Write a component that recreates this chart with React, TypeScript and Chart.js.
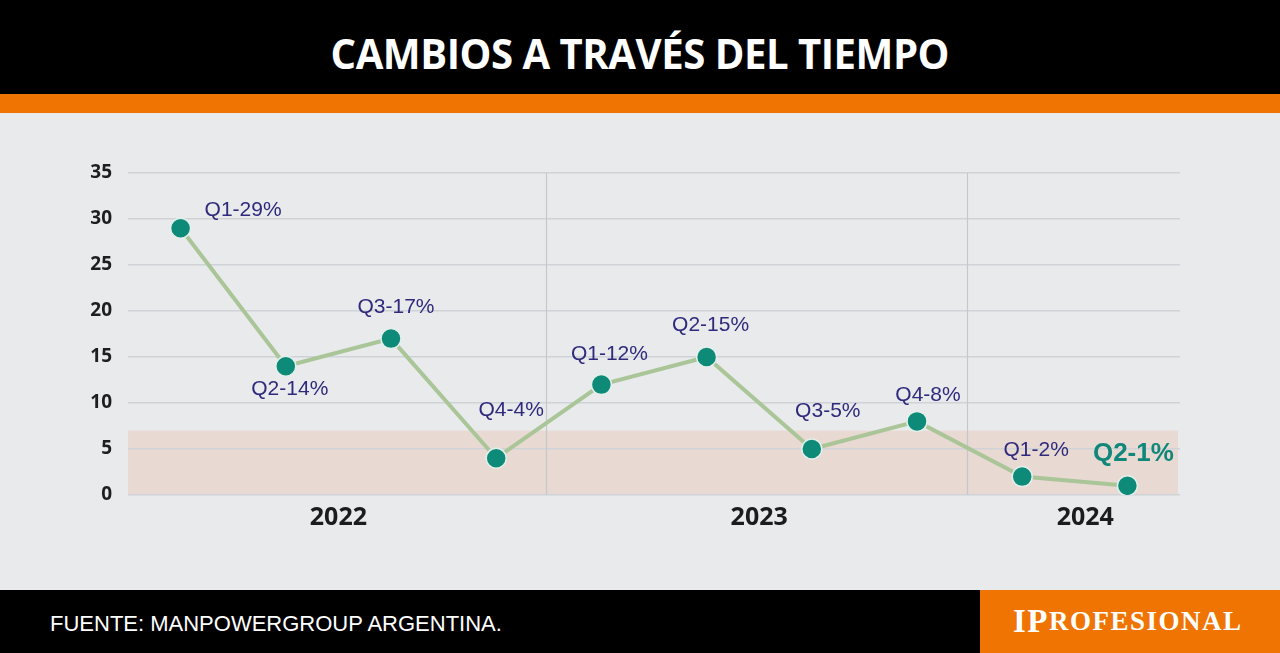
import React, { useEffect, useRef } from "react";
import { Chart, registerables } from "chart.js";

Chart.register(...registerables);

// ---- data ----
const categories = ["Q1", "Q2", "Q3", "Q4", "Q1", "Q2", "Q3", "Q4", "Q1", "Q2"];
const values = [29, 14, 17, 4, 12, 15, 5, 8, 2, 1];
const pointLabels = ["Q1-29%", "Q2-14%", "Q3-17%", "Q4-4%", "Q1-12%", "Q2-15%", "Q3-5%", "Q4-8%", "Q1-2%", "Q2-1%"];
const yearLabels = ["2022", "2023", "2024"];
const yearCenters = [1.5, 5.5, 8.6]; // category-index positions of year labels
const yearDividers = [3.5, 7.5]; // category-index positions of year separators
const yTickMax = 35;
const yTickStep = 5;
const bandTop = 7; // shaded zone 0..7

// ---- label placement (style) ----
const labelOffsets: [number, number, CanvasTextAlign][] = [
  [24, -18, "left"],
  [4, 23, "center"],
  [5, -31, "center"],
  [15, -48, "center"],
  [8, -30, "center"],
  [4, -32, "center"],
  [16, -38, "center"],
  [11, -26, "center"],
  [14, -26, "center"],
  [6, -32, "center"],
];

const overlayPlugin = {
  id: "overlay",
  beforeDraw(chart: any) {
    const { ctx, chartArea, scales } = chart;
    const y = scales.y;
    ctx.save();
    ctx.fillStyle = "#e8d9d2";
    const top = y.getPixelForValue(bandTop);
    const bot = y.getPixelForValue(0);
    ctx.fillRect(chartArea.left, top, chartArea.right - chartArea.left - 2, bot - top);
    ctx.restore();
  },
  beforeDatasetsDraw(chart: any) {
    const { ctx, scales } = chart;
    const x = scales.x;
    const y = scales.y;
    ctx.save();
    ctx.strokeStyle = "#c4c8cc";
    ctx.lineWidth = 1.2;
    yearDividers.forEach((d) => {
      const px = Math.round(x.getPixelForValue(d)) - 2.5;
      ctx.beginPath();
      ctx.moveTo(px, y.getPixelForValue(yTickMax));
      ctx.lineTo(px, y.getPixelForValue(0));
      ctx.stroke();
    });
    ctx.restore();
  },
  afterDatasetsDraw(chart: any) {
    const { ctx, scales, chartArea } = chart;
    const meta = chart.getDatasetMeta(0);
    ctx.save();
    ctx.textBaseline = "middle";
    meta.data.forEach((pt: any, i: number) => {
      const last = i === values.length - 1;
      const [dx, dy, align] = labelOffsets[i];
      ctx.textAlign = align;
      ctx.fillStyle = last ? "#11877a" : "#2f2a7c";
      ctx.font = last ? "bold 26px 'Liberation Sans', Arial, sans-serif" : "21px 'Liberation Sans', Arial, sans-serif";
      ctx.fillText(pointLabels[i], pt.x + dx, pt.y + dy);
    });
    ctx.fillStyle = "#1c1c1c";
    ctx.font = "bold 25px 'Open Sans', sans-serif";
    ctx.textAlign = "center";
    yearLabels.forEach((lab, i) => {
      ctx.fillText(lab, scales.x.getPixelForValue(yearCenters[i]), chartArea.bottom + 23);
    });
    ctx.restore();
  },
};

function ChartBox() {
  const ref = useRef<HTMLCanvasElement | null>(null);
  useEffect(() => {
    if (!ref.current) return;
    const chart = new Chart(ref.current, {
      type: "line",
      data: {
        labels: categories,
        datasets: [
          {
            data: values,
            borderColor: "#aac597",
            borderWidth: 4,
            pointRadius: 10,
            pointHoverRadius: 10,
            pointBackgroundColor: "#0d8a78",
            pointBorderColor: "#e3efeb",
            pointBorderWidth: 1.5,
            tension: 0,
          },
        ],
      },
      options: {
        animation: false,
        responsive: false,
        maintainAspectRatio: false,
        events: [],
        layout: { padding: { left: 0, right: 100, top: 60, bottom: 95 } },
        plugins: { legend: { display: false }, tooltip: { enabled: false } },
        scales: {
          x: {
            type: "category",
            offset: true,
            display: false,
            grid: { display: false },
          },
          y: {
            min: 0,
            max: yTickMax,
            border: { display: false },
            grid: { color: "#cfd3d8", lineWidth: 1.5, drawTicks: false },
            afterFit(scale: any) {
              scale.width = 128;
            },
            ticks: {
              stepSize: yTickStep,
              padding: 16,
              color: "#1e1e1e",
              font: { family: "'Open Sans', sans-serif", size: 19, weight: "bold" },
            },
          },
        },
      },
      plugins: [overlayPlugin],
    });
    return () => chart.destroy();
  }, []);
  return <canvas ref={ref} width={1280} height={477} style={{ position: "absolute", left: 0, top: 113, width: 1280, height: 477 }} />;
}

export default function App() {
  return (
    <div style={{ position: "absolute", left: 0, top: 0, width: 1280, height: 653, overflow: "hidden", background: "#e9eaec" }}>
      <div style={{ position: "absolute", left: 0, top: 0, width: 1280, height: 94, background: "#000", display: "flex", alignItems: "center", justifyContent: "center" }}>
        <div style={{ color: "#fff", fontFamily: "'Open Sans', sans-serif", fontWeight: 700, fontSize: 42, transform: "scaleX(0.955)", whiteSpace: "nowrap", marginTop: 10, letterSpacing: -0.5 }}>
          CAMBIOS A TRAVÉS DEL TIEMPO
        </div>
      </div>
      <div style={{ position: "absolute", left: 0, top: 94, width: 1280, height: 19, background: "#ef7402" }} />
      <ChartBox />
      <div style={{ position: "absolute", left: 0, top: 590, width: 1280, height: 63, background: "#000" }}>
        <div style={{ position: "absolute", left: 50, top: 2, height: 63, display: "flex", alignItems: "center", color: "#fff", fontFamily: "'Liberation Sans', Arial, sans-serif", fontSize: 22, whiteSpace: "nowrap" }}>
          FUENTE: MANPOWERGROUP ARGENTINA.
        </div>
        <div style={{ position: "absolute", left: 980, top: 0, width: 300, height: 63, background: "#ef7402" }}>
          <div style={{ position: "absolute", left: 33, top: 0, height: 63, display: "flex", alignItems: "center", color: "#fff", fontFamily: "'Liberation Serif', 'DejaVu Serif', serif", fontWeight: 700, whiteSpace: "nowrap", letterSpacing: 1.5 }}>
            <span style={{ fontSize: 33 }}>IP</span>
            <span style={{ fontSize: 27 }}>ROFESIONAL</span>
          </div>
        </div>
      </div>
    </div>
  );
}
